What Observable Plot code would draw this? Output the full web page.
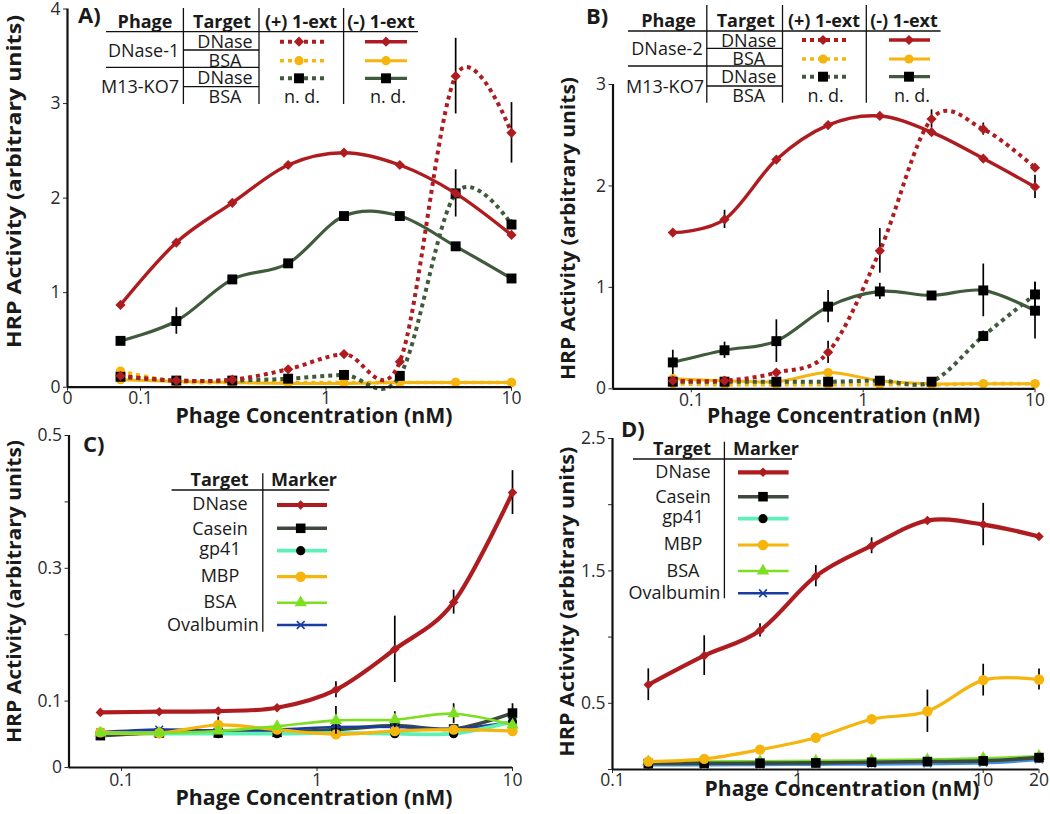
<!DOCTYPE html>
<html>
<head>
<meta charset="utf-8">
<script src="https://cdn.jsdelivr.net/npm/d3@7"></script>
<script src="https://cdn.jsdelivr.net/npm/@observablehq/plot@0.6"></script>
<style>
  body { margin: 0; background: #fff; }
  #fig { position: relative; width: 1050px; height: 814px; font-family: "Open Sans", sans-serif; overflow: hidden; }
  #overlay { position: absolute; left: 0; top: 0; pointer-events: none; }
</style>
</head>
<body>
<div id="fig"></div>
<script>
// ---------------- DATA ----------------
const concABC = [0.078, 0.156, 0.3125, 0.625, 1.25, 2.5, 5, 10];
const concD = [0.156, 0.3125, 0.625, 1.25, 2.5, 5, 10, 20];

// Panel A (DNase-1 phage vs M13-KO7), (+) / (-) 1-ext
const A_dnase1_dnase_plus      = [0.12, 0.07, 0.08, 0.19, 0.35, 0.27, 3.29, 2.69];
const A_dnase1_dnase_plus_err  = [0, 0, 0, 0, 0, 0, 0.40, 0.32];
const A_dnase1_dnase_minus     = [0.87, 1.53, 1.95, 2.35, 2.48, 2.35, 2.05, 1.61];
const A_dnase1_bsa_plus        = [0.17, 0.06, 0.05, 0.05, 0.05, 0.05, 0.05, 0.05];
const A_dnase1_bsa_minus       = [0.08, 0.06, 0.05, 0.04, 0.04, 0.05, 0.05, 0.05];
const A_m13_dnase_plus         = [0.11, 0.07, 0.07, 0.09, 0.13, 0.12, 2.05, 1.72];
const A_m13_dnase_plus_err     = [0, 0, 0, 0, 0, 0, 0.25, 0.05];
const A_m13_dnase_minus        = [0.49, 0.70, 1.14, 1.31, 1.81, 1.81, 1.49, 1.15];
const A_m13_dnase_minus_err    = [0, 0.14, 0, 0, 0, 0, 0, 0];

// Panel B (DNase-2 phage vs M13-KO7)
const B_dnase2_dnase_plus      = [0.08, 0.08, 0.16, 0.36, 1.36, 2.66, 2.56, 2.18];
const B_dnase2_dnase_plus_err  = [0, 0, 0, 0.11, 0.22, 0.09, 0.06, 0.03];
const B_dnase2_dnase_minus     = [1.54, 1.67, 2.26, 2.60, 2.69, 2.53, 2.27, 1.99];
const B_dnase2_dnase_minus_err = [0, 0.09, 0, 0, 0, 0, 0, 0.115];
const B_dnase2_bsa_plus        = [0.05, 0.04, 0.04, 0.04, 0.04, 0.04, 0.05, 0.05];
const B_dnase2_bsa_minus       = [0.10, 0.08, 0.07, 0.16, 0.08, 0.05, 0.05, 0.05];
const B_m13_dnase_plus         = [0.07, 0.07, 0.07, 0.07, 0.08, 0.07, 0.52, 0.93];
const B_m13_dnase_plus_err     = [0, 0, 0, 0, 0, 0, 0.05, 0.12];
const B_m13_dnase_minus        = [0.26, 0.38, 0.47, 0.81, 0.96, 0.92, 0.97, 0.77];
const B_m13_dnase_minus_err    = [0.12, 0.08, 0.21, 0.16, 0.08, 0, 0.26, 0.28];

// Panel C (targets)
const C_dnase      = [0.083, 0.084, 0.085, 0.090, 0.117, 0.178, 0.249, 0.414];
const C_dnase_err  = [0, 0, 0, 0, 0.012, 0.05, 0.018, 0.033];
const C_casein     = [0.048, 0.052, 0.052, 0.053, 0.057, 0.063, 0.058, 0.082];
const C_casein_err = [0, 0, 0, 0, 0, 0, 0, 0.014];
const C_gp41       = [0.052, 0.051, 0.051, 0.051, 0.052, 0.051, 0.051, 0.069];
const C_mbp        = [0.053, 0.052, 0.064, 0.057, 0.050, 0.055, 0.057, 0.055];
const C_mbp_err    = [0, 0, 0.012, 0, 0, 0, 0, 0];
const C_bsa        = [0.052, 0.052, 0.055, 0.062, 0.071, 0.072, 0.081, 0.064];
const C_bsa_err    = [0, 0, 0, 0, 0.021, 0.012, 0.015, 0];
const C_ovalbumin  = [0.053, 0.057, 0.056, 0.057, 0.061, 0.061, 0.058, 0.069];

// Panel D (targets)
const D_dnase      = [0.64, 0.86, 1.05, 1.46, 1.69, 1.88, 1.85, 1.76];
const D_dnase_err  = [0.12, 0.15, 0.05, 0.08, 0.06, 0, 0.16, 0.02];
const D_casein     = [0.045, 0.047, 0.048, 0.050, 0.055, 0.060, 0.065, 0.090];
const D_gp41       = [0.040, 0.045, 0.045, 0.048, 0.052, 0.058, 0.065, 0.085];
const D_mbp        = [0.06, 0.08, 0.15, 0.24, 0.38, 0.44, 0.675, 0.68];
const D_mbp_err    = [0, 0, 0, 0, 0, 0.16, 0.12, 0.08];
const D_bsa        = [0.060, 0.060, 0.062, 0.065, 0.070, 0.075, 0.085, 0.100];
const D_ovalbumin  = [0.035, 0.035, 0.038, 0.040, 0.042, 0.045, 0.050, 0.075];

// Tick values and labels
const A_xTicks = [0.0404, 0.1, 1, 10];
const A_xLabels = ["0", "0.1", "1", "10"];
const A_yTicks = [0, 1, 2, 3, 4];
const A_yLabels = ["0", "1", "2", "3", "4"];
const B_xTicks = [0.1, 1, 10];
const B_xLabels = ["0.1", "1", "10"];
const B_yTicks = [0, 1, 2, 3];
const B_yLabels = ["0", "1", "2", "3"];
const C_xTicks = [0.1, 1, 10];
const C_xLabels = ["0.1", "1", "10"];
const C_yTicks = [0, 0.1, 0.2, 0.3, 0.4, 0.5];
const C_yLabels = ["0", "0.1", "", "0.3", "", "0.5"];
const D_xTicks = [0.1, 1, 10, 20];
const D_xLabels = ["0.1", "1", "10", "20"];
const D_yTicks = [0, 0.5, 1, 1.5, 2, 2.5];
const D_yLabels = ["", "0.5", "", "1.5", "", "2.5"];

// ---------------- STYLES ----------------
const RED = "#ae1c20", YEL = "#f5b50c", GRN = "#3f5b3b";
const DASH = "4,4";
const S = {
  redPlus:  {stroke: RED, width: 4.0, dash: DASH, symbol: "diamond2", r: 4.6, fill: RED},
  redMinus: {stroke: RED, width: 3.4, dash: null, symbol: "diamond2", r: 4.6, fill: RED},
  yelPlus:  {stroke: YEL, width: 3.6, dash: DASH, symbol: "circle", r: 4.6, fill: YEL},
  yelMinus: {stroke: YEL, width: 3.0, dash: null, symbol: "circle", r: 4.6, fill: YEL},
  grnPlus:  {stroke: GRN, width: 4.0, dash: DASH, symbol: "square", r: 5.6, fill: "#000"},
  grnMinus: {stroke: GRN, width: 3.2, dash: null, symbol: "square", r: 5.6, fill: "#000"},
  dnase:    {stroke: RED, width: 4.2, dash: null, symbol: "diamond2", r: 4.3, fill: RED},
  casein:   {stroke: "#3c4a3c", width: 3.6, dash: null, symbol: "square", r: 5.4, fill: "#000"},
  gp41:     {stroke: "#5ef0b6", width: 3.8, dash: null, symbol: "circle", r: 4.6, fill: "#000"},
  mbp:      {stroke: YEL, width: 3.2, dash: null, symbol: "circle", r: 5.2, fill: YEL},
  bsa:      {stroke: "#7edf22", width: 2.6, dash: null, symbol: "triangle", r: 4.6, fill: "#7edf22"},
  oval:     {stroke: "#1b3c9f", width: 2.6, dash: null, symbol: "times", r: 3.6, fill: "none"},
  ovalD:    {stroke: "#3f8fe0", width: 3.4, dash: null, symbol: "times", r: 3.6, fill: "none"}
};

// ---------------- PANELS ----------------
const panels = [
  {
    left: 0, top: 0, width: 525, height: 430,
    margin: {top: 8.5, right: 14, bottom: 43.3, left: 67},
    x: concABC, xDomain: [0.0404, 10], yDomain: [0, 4],
    xTicks: A_xTicks, xLabels: A_xLabels, yTicks: A_yTicks, yLabels: A_yLabels, xPad: 0,
    series: [
      {y: A_dnase1_bsa_plus, s: S.yelPlus},
      {y: A_dnase1_bsa_minus, s: S.yelMinus},
      {y: A_m13_dnase_plus, err: A_m13_dnase_plus_err, s: S.grnPlus},
      {y: A_dnase1_dnase_plus, err: A_dnase1_dnase_plus_err, s: S.redPlus},
      {y: A_dnase1_dnase_minus, s: S.redMinus},
      {y: A_m13_dnase_minus, err: A_m13_dnase_minus_err, s: S.grnMinus}
    ]
  },
  {
    left: 525, top: 0, width: 525, height: 430,
    margin: {top: 84, right: 15.5, bottom: 41.7, left: 87.5},
    x: concABC, xDomain: [0.035, 10], yDomain: [0, 3],
    xTicks: B_xTicks, xLabels: B_xLabels, yTicks: B_yTicks, yLabels: B_yLabels, xPad: 1,
    series: [
      {y: B_dnase2_bsa_plus, s: S.yelPlus},
      {y: B_dnase2_bsa_minus, s: S.yelMinus},
      {y: B_m13_dnase_plus, err: B_m13_dnase_plus_err, s: S.grnPlus},
      {y: B_dnase2_dnase_plus, err: B_dnase2_dnase_plus_err, s: S.redPlus},
      {y: B_dnase2_dnase_minus, err: B_dnase2_dnase_minus_err, s: S.redMinus},
      {y: B_m13_dnase_minus, err: B_m13_dnase_minus_err, s: S.grnMinus}
    ]
  },
  {
    left: 0, top: 410, width: 525, height: 404,
    margin: {top: 25, right: 13, bottom: 47, left: 68.5},
    x: concABC, xDomain: [0.0539, 10], yDomain: [0, 0.5],
    xTicks: C_xTicks, xLabels: C_xLabels, yTicks: C_yTicks, yLabels: C_yLabels, xPad: 2,
    series: [
      {y: C_casein, err: C_casein_err, s: S.casein},
      {y: C_ovalbumin, s: S.oval},
      {y: C_gp41, s: S.gp41},
      {y: C_mbp, err: C_mbp_err, s: S.mbp},
      {y: C_bsa, err: C_bsa_err, s: S.bsa},
      {y: C_dnase, err: C_dnase_err, s: S.dnase}
    ]
  },
  {
    left: 525, top: 410, width: 525, height: 404,
    margin: {top: 28, right: 11.5, bottom: 45, left: 87},
    x: concD, xDomain: [0.1, 20], yDomain: [0, 2.5],
    xTicks: D_xTicks, xLabels: D_xLabels, yTicks: D_yTicks, yLabels: D_yLabels, xPad: 0,
    series: [
      {y: D_bsa, s: S.bsa},
      {y: D_gp41, s: S.gp41},
      {y: D_ovalbumin, s: S.ovalD},
      {y: D_casein, s: S.casein},
      {y: D_mbp, err: D_mbp_err, s: S.mbp},
      {y: D_dnase, err: D_dnase_err, s: S.dnase}
    ]
  }
];

const fig = document.getElementById("fig");

for (const p of panels) {
  const xl = new Map(p.xTicks.map((t, i) => [t, p.xLabels[i]]));
  const yl = new Map(p.yTicks.map((t, i) => [t, p.yLabels[i]]));
  const marks = [];
  for (const ser of p.series) {
    const rows = p.x.map((x, i) => ({x, y: ser.y[i], e: ser.err ? ser.err[i] : 0}));
    const st = ser.s;
    const lineOpts = {x: "x", y: "y", stroke: st.stroke, strokeWidth: st.width, curve: "cardinal"};
    if (st.dash) { lineOpts.strokeDasharray = st.dash; lineOpts.strokeLinecap = "butt"; }
    marks.push(Plot.line(rows, lineOpts));
    const er = rows.filter(d => d.e > 0);
    marks.push(Plot.ruleX(er, {x: "x", y1: d => d.y - d.e, y2: d => d.y + d.e, stroke: "#000", strokeWidth: 1.7}));
    if (st.symbol === "times") {
      marks.push(Plot.dot(rows, {x: "x", y: "y", symbol: "times", r: st.r, stroke: st.stroke, strokeWidth: 1.6, fill: "none"}));
    } else {
      marks.push(Plot.dot(rows, {x: "x", y: "y", symbol: st.symbol, r: st.r, fill: st.fill, stroke: "none"}));
    }
  }
  marks.push(Plot.ruleX([p.xDomain[0]], {stroke: "#111", strokeWidth: 2.2}));
  marks.push(Plot.ruleY([p.yDomain[0]], {stroke: "#111", strokeWidth: 2.2}));

  const svg = Plot.plot({
    width: p.width, height: p.height,
    marginTop: p.margin.top, marginRight: p.margin.right,
    marginBottom: p.margin.bottom, marginLeft: p.margin.left,
    x: {type: "log", domain: p.xDomain, ticks: p.xTicks, tickFormat: d => xl.get(d) ?? "",
        tickSize: 4, tickPadding: p.xPad, label: null},
    y: {domain: p.yDomain, ticks: p.yTicks, tickFormat: d => yl.get(d) ?? "",
        tickSize: 4, tickPadding: 3, label: null},
    style: {
      position: "absolute", left: p.left + "px", top: p.top + "px",
      background: "transparent", overflow: "visible",
      fontFamily: "'Open Sans', sans-serif", fontSize: "17.5px", color: "#2b2b2b", maxWidth: "none"
    },
    marks
  });
  fig.appendChild(svg);
}

// ---------------- OVERLAY: titles and legend tables ----------------
const ov = d3.select(fig).append("svg")
  .attr("id", "overlay").attr("width", 1050).attr("height", 814)
  .style("font-family", "'Open Sans', sans-serif");

function txt(x, y, s, o = {}) {
  const t = ov.append("text").attr("x", x).attr("y", y).text(s)
    .attr("font-size", o.size || 18).attr("font-weight", o.bold ? 700 : 400)
    .attr("text-anchor", o.anchor || "middle").attr("fill", o.fill || "#1a1a1a");
  if (o.len) t.attr("textLength", o.len).attr("lengthAdjust", "spacingAndGlyphs");
  if (o.rotate) t.attr("transform", `rotate(-90 ${x} ${y})`).attr("dy", "0.35em");
  return t;
}
function hline(x1, x2, y) {
  ov.append("line").attr("x1", x1).attr("x2", x2).attr("y1", y).attr("y2", y)
    .attr("stroke", "#111").attr("stroke-width", 1.3);
}
function vline(x, y1, y2) {
  ov.append("line").attr("x1", x).attr("x2", x).attr("y1", y1).attr("y2", y2)
    .attr("stroke", "#111").attr("stroke-width", 1.3);
}
const symMap = {
  diamond2: d3.symbolDiamond2, circle: d3.symbolCircle, square: d3.symbolSquare,
  triangle: d3.symbolTriangle, times: d3.symbolTimes
};
function sample(x1, x2, xm, y, st) {
  ov.append("line").attr("x1", x1).attr("x2", x2).attr("y1", y).attr("y2", y)
    .attr("stroke", st.stroke).attr("stroke-width", st.width)
    .attr("stroke-dasharray", st.dash || null);
  const path = d3.symbol().type(symMap[st.symbol]).size(Math.PI * st.r * st.r)();
  const m = ov.append("path").attr("d", path).attr("transform", `translate(${xm},${y})`);
  if (st.symbol === "times") m.attr("fill", "none").attr("stroke", st.stroke).attr("stroke-width", 1.6);
  else m.attr("fill", st.fill);
}

// Panel letters
txt(78, 23, "A)", {bold: true, size: 22, anchor: "start"});
txt(586, 24, "B)", {bold: true, size: 22, anchor: "start"});
txt(83, 452, "C)", {bold: true, size: 22, anchor: "start"});
txt(621, 437, "D)", {bold: true, size: 22, anchor: "start"});

// Axis titles
const XT = "Phage Concentration (nM)", YT = "HRP Activity (arbitrary units)";
txt(314, 422.5, XT, {bold: true, size: 21, len: 277});
txt(843.5, 422.5, XT, {bold: true, size: 21, len: 273});
txt(314, 804.5, XT, {bold: true, size: 21, len: 277});
txt(842, 796, XT, {bold: true, size: 21, len: 275});
txt(14, 181.5, YT, {bold: true, size: 20, len: 333, rotate: true});
txt(567.5, 228.5, YT, {bold: true, size: 20, len: 303, rotate: true});
txt(14, 591.5, YT, {bold: true, size: 20, len: 303, rotate: true});
txt(567, 601.7, YT, {bold: true, size: 20, len: 310, rotate: true});

// Phage legend tables (panels A and B)
function phageTable(L, phageName) {
  txt(L.col[0], L.head, "Phage", {bold: true});
  txt(L.col[1], L.head, "Target", {bold: true});
  txt(L.col[2], L.head, "(+) 1-ext", {bold: true});
  txt(L.col[3], L.head, "(-) 1-ext", {bold: true});
  hline(L.x0, L.x1, L.under);
  L.v.forEach(x => vline(x, L.vTop, L.vBot));
  hline(L.v[0], L.v[1], L.tl[0]);
  hline(L.x0, L.v[1], L.group);
  hline(L.v[0], L.v[1], L.tl[1]);
  const targets = ["DNase", "BSA", "DNase", "BSA"];
  targets.forEach((t, i) => txt(L.col[1] + 3, L.rows[i], t));
  txt(L.pn[0], L.pnY[0], phageName);
  txt(L.pn[1], L.pnY[1], "M13-KO7");
  const plusStyles = [S.redPlus, S.yelPlus, S.grnPlus];
  const minusStyles = [S.redMinus, S.yelMinus, S.grnMinus];
  plusStyles.forEach((st, i) => sample(L.plus[0], L.plus[1], L.plus[2], L.sy[i], st));
  minusStyles.forEach((st, i) => sample(L.minus[0], L.minus[1], L.minus[2], L.sy[i], st));
  txt(L.nd[0], L.rows[3], "n. d.");
  txt(L.nd[1], L.rows[3], "n. d.");
}
phageTable({
  col: [145, 222, 301, 381], head: 28, x0: 106, x1: 418, under: 31.7,
  v: [183.4, 259, 343.6], vTop: 8, vBot: 104, tl: [50, 86.7], group: 67.3,
  rows: [48, 67, 83.5, 103], pn: [143.6, 140], pnY: [57, 93],
  sy: [41.7, 60.7, 78.3], plus: [280, 324, 299], minus: [365, 407, 386], nd: [302, 388]
}, "DNase-1");
phageTable({
  col: [668.6, 745.7, 824, 904], head: 26.5, x0: 628, x1: 940.6, under: 31,
  v: [706.8, 782.5, 866.3], vTop: 5, vBot: 102.7, tl: [48.3, 86], group: 66,
  rows: [46.5, 65, 82.7, 101.7], pn: [667, 665], pnY: [55, 92.5],
  sy: [40, 59, 76.7], plus: [802, 847, 823], minus: [889, 930, 909], nd: [825.7, 912]
}, "DNase-2");

// Target legend tables (panels C and D)
const targetNames = ["DNase", "Casein", "gp41", "MBP", "BSA", "Ovalbumin"];
const targetStyles = [S.dnase, S.casein, S.gp41, S.mbp, S.bsa, S.oval];
function targetTable(L) {
  txt(L.col[0], L.head, "Target", {bold: true});
  txt(L.col[1], L.head, "Marker", {bold: true});
  hline(L.x0, L.x1, L.under);
  vline(L.v, L.vTop, L.vBot);
  targetNames.forEach((n, i) => {
    if (n === "Ovalbumin") txt(L.v - 4, L.rows[i], n, {anchor: "end"});
    else txt(L.tx, L.rows[i], n);
    sample(L.s[0], L.s[1], L.s[2], L.sy[i], targetStyles[i]);
  });
}
targetTable({
  col: [219.6, 304], head: 485.5, x0: 171.6, x1: 329.4, under: 490,
  v: 262.8, vTop: 473.3, vBot: 631.7, tx: 220,
  rows: [510, 535, 555, 581.7, 608.3, 630.7],
  s: [277, 327, 300.7], sy: [505, 528.3, 550.7, 576.7, 602.7, 625]
});
targetTable({
  col: [682, 766], head: 455, x0: 633, x1: 792, under: 459,
  v: 724.4, vTop: 441.7, vBot: 598.3, tx: 683,
  rows: [478, 503, 523, 550, 576.7, 599],
  s: [738, 788.6, 763], sy: [472.3, 496.7, 518.7, 545, 571, 593.3]
});
</script>
</body>
</html>
